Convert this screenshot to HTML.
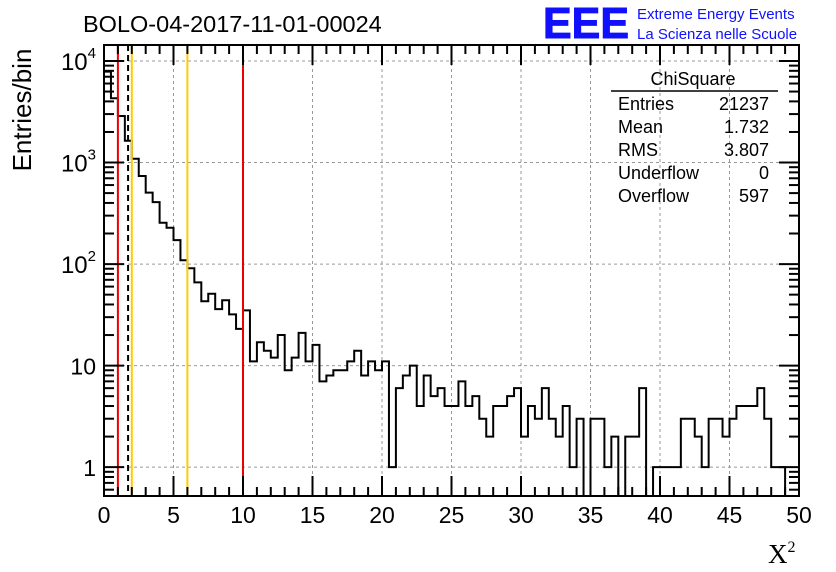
<!DOCTYPE html>
<html><head><meta charset="utf-8"><style>
body{margin:0;background:#fff;}
svg{display:block;font-family:"Liberation Sans",sans-serif;}
</style></head><body>
<svg id="chart" width="836" height="572">
<rect width="836" height="572" fill="#fff"/>
<text x="83" y="32" font-size="23.5" fill="#000">BOLO-04-2017-11-01-00024</text>
<g>
<text x="543" y="38" font-size="44" font-weight="bold" fill="#1010ff" stroke="#1010ff" stroke-width="1" textLength="86" lengthAdjust="spacingAndGlyphs">EEE</text>
<text x="637" y="19" font-size="15" fill="#1010ff">Extreme Energy Events</text>
<text x="637" y="39" font-size="15" fill="#1010ff">La Scienza nelle Scuole</text>
</g>
<g id="grid"></g>
<g id="marks"></g>
<g id="axes"></g>
<text transform="translate(31,110) rotate(-90)" text-anchor="middle" font-size="26">Entries/bin</text>
<text x="768" y="563" font-size="27" font-family="Liberation Serif,serif">X<tspan font-size="16" dy="-11">2</tspan></text>
<g>
<text x="693" y="85" font-size="18" text-anchor="middle">ChiSquare</text>
<line x1="611" y1="91" x2="778" y2="91" stroke="#000" stroke-width="1.5"/>
<text x="618" y="110" font-size="18">Entries</text><text x="769" y="110" font-size="18" text-anchor="end">21237</text>
<text x="618" y="133" font-size="18">Mean</text><text x="769" y="133" font-size="18" text-anchor="end">1.732</text>
<text x="618" y="156" font-size="18">RMS</text><text x="769" y="156" font-size="18" text-anchor="end">3.807</text>
<text x="618" y="179" font-size="18">Underflow</text><text x="769" y="179" font-size="18" text-anchor="end">0</text>
<text x="618" y="202" font-size="18">Overflow</text><text x="769" y="202" font-size="18" text-anchor="end">597</text>
</g>
</svg>
<script>
const counts=[7850,4290,2870,1640,1090,736,505,408,255,228,172,109,91,66,43,51,36,44,32,23,
35,11,17,14,12,20,9,12,21,11,16,7,8,9,9,11,14,8,11,9,
11,1,6,8,10,4,8,5,6,4,4,7,4,5,3,2,4,4,5,6,
2,4,3,6,3,2,4,1,3,0,3,3,1,2,0,2,2,6,0,1,
1,1,1,3,3,2,1,3,3,2,3,4,4,4,6,3,1,1,0,0];
const binWidth=0.5;
const cutLines=[1,10];
const meanLine=[1.732];
const goldLines=[2,6];
const xTicks=[0,5,10,15,20,25,30,35,40,45,50];
const yDecades=[1,10,100,1000,10000];

const X0=104,X1=799,Y0=496,Y1=45;
const xMin=0,xMax=50,yMin=0.52,yMax=14370;
const xs=v=>X0+(v-xMin)/(xMax-xMin)*(X1-X0);
const ys=v=>Y0-(Math.log10(v)-Math.log10(yMin))/(Math.log10(yMax)-Math.log10(yMin))*(Y0-Y1);
const NS="http://www.w3.org/2000/svg";
function mk(tag,attrs,parent){const e=document.createElementNS(NS,tag);for(const k in attrs)e.setAttribute(k,attrs[k]);parent.appendChild(e);return e;}
const grid=document.getElementById('grid'),marks=document.getElementById('marks'),axes=document.getElementById('axes');

xTicks.forEach(t=>{if(t>0&&t<50){const l=mk('line',{x1:xs(t),x2:xs(t),y1:Y1,y2:Y0,stroke:'#999','stroke-dasharray':'3,3'},grid);

}});
yDecades.forEach(d=>{const l=mk('line',{x1:X0,x2:X1,y1:ys(d),y2:ys(d),stroke:'#999','stroke-dasharray':'3,3'},grid);

});

let p='M'+xs(0)+','+Y0;
counts.forEach((c,i)=>{const y=c>0?Math.max(ys(c),Y1):Y0;p+=' L'+xs(i*binWidth)+','+y+' L'+xs((i+1)*binWidth)+','+y;});
p+=' L'+xs(counts.length*binWidth)+','+Y0;
const h=mk('path',{d:p,fill:'none',stroke:'#000','stroke-width':2,'stroke-linejoin':'miter'},marks);



cutLines.forEach(v=>{const l=mk('line',{x1:xs(v),x2:xs(v),y1:Y1,y2:Y0,stroke:'#ee0000','stroke-width':2},marks);

});
goldLines.forEach(v=>{const l=mk('line',{x1:xs(v),x2:xs(v),y1:Y1,y2:Y0,stroke:'#ffcc00','stroke-width':2},marks);

});
meanLine.forEach(v=>{const l=mk('line',{x1:xs(v),x2:xs(v),y1:Y1,y2:Y0,stroke:'#000','stroke-width':2,'stroke-dasharray':'6,4'},marks);

});

const fr=mk('rect',{x:X0,y:Y1,width:X1-X0,height:Y0-Y1,fill:'none',stroke:'#000','stroke-width':2},axes);


for(let v=0;v<=50;v+=1){const L=v%5===0?20:9;
mk('line',{x1:xs(v),x2:xs(v),y1:Y0,y2:Y0-L,stroke:'#000','stroke-width':2},axes);
mk('line',{x1:xs(v),x2:xs(v),y1:Y1,y2:Y1+L,stroke:'#000','stroke-width':2},axes);}
xTicks.forEach(t=>{const tx=mk('text',{x:xs(t),y:523,'font-size':23,'text-anchor':'middle'},axes);tx.textContent=t;

});
for(let e=-1;e<=4;e++){for(let m=1;m<=9;m++){const v=m*Math.pow(10,e);if(v<yMin||v>yMax)continue;const L=m===1?20:10;
mk('line',{x1:X0,x2:X0+L,y1:ys(v),y2:ys(v),stroke:'#000','stroke-width':2},axes);
mk('line',{x1:X1,x2:X1-L,y1:ys(v),y2:ys(v),stroke:'#000','stroke-width':2},axes);}}
yDecades.forEach((d,i)=>{let t;
if(d>=100){const ex=Math.round(Math.log10(d));t=mk('text',{x:96,y:ys(d)+9,'font-size':24,'text-anchor':'end'},axes);
t.innerHTML='10<tspan font-size="15" dy="-12">'+ex+'</tspan>';}
else{t=mk('text',{x:96,y:ys(d)+9,'font-size':23,'text-anchor':'end'},axes);t.textContent=d;}

});
</script>
</body></html>
